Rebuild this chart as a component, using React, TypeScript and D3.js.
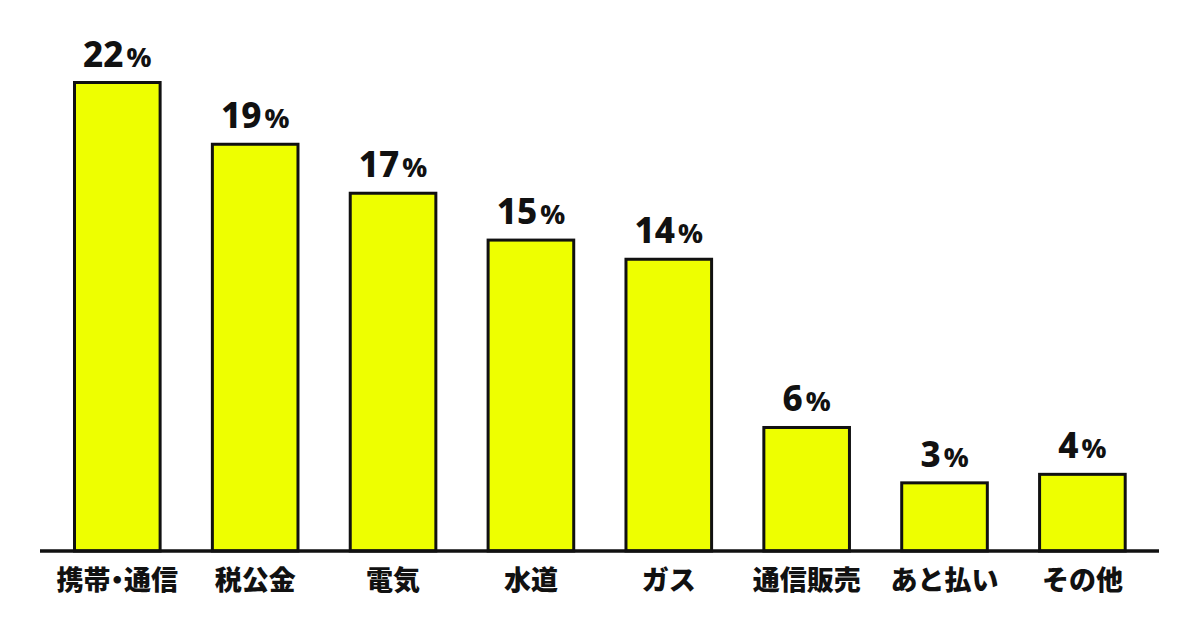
import React from 'react';
import { scaleBand, scaleLinear } from 'd3';

const categories = ['携帯・通信', '税公金', '電気', '水道', 'ガス', '通信販売', 'あと払い', 'その他'];
const values = [22, 19.1, 16.8, 14.6, 13.7, 5.8, 3.2, 3.6];
const valueLabels = ['22', '19', '17', '15', '14', '6', '3', '4'];

const width = 1200;
const height = 636;
const baseY = 551;

export default function App() {
  const x = scaleBand<string>()
    .domain(categories)
    .range([74.5, 1125.2])
    .paddingInner(0.379)
    .paddingOuter(0);
  const y = scaleLinear().domain([0, 22]).range([baseY, 82.5]);

  return (
    <svg width={width} height={height} style={{ position: 'absolute', left: 0, top: 0, background: '#fff' }}>
      {categories.map((c, i) => (
        <rect
          key={c}
          x={x(c)}
          y={y(values[i])}
          width={x.bandwidth()}
          height={baseY - y(values[i])}
          fill="#eeff00"
          stroke="#111"
          strokeWidth={3}
        />
      ))}
      <line x1={40} x2={1159} y1={baseY} y2={baseY} stroke="#111" strokeWidth={3.4} />
      {categories.map((c, i) => (
        <text
          key={'v' + c}
          x={(x(c) as number) + x.bandwidth() / 2}
          y={y(values[i]) - 16}
          textAnchor="middle"
          fontFamily="'Noto Sans', sans-serif"
          fontWeight={800}
          fill="#111"
        >
          <tspan fontSize={35}>{valueLabels[i]}</tspan>
          <tspan fontSize={27} dx={3}>%</tspan>
        </text>
      ))}
      {categories.map((c) => (
        <text
          key={'c' + c}
          x={(x(c) as number) + x.bandwidth() / 2}
          y={590}
          textAnchor="middle"
          fontFamily="'Noto Sans CJK JP', sans-serif"
          fontWeight={900}
          fontSize={27}
          fill="#111"
          style={{ fontFeatureSettings: c.includes('・') ? '"palt"' : 'normal' }}
        >
          {c}
        </text>
      ))}
    </svg>
  );
}
